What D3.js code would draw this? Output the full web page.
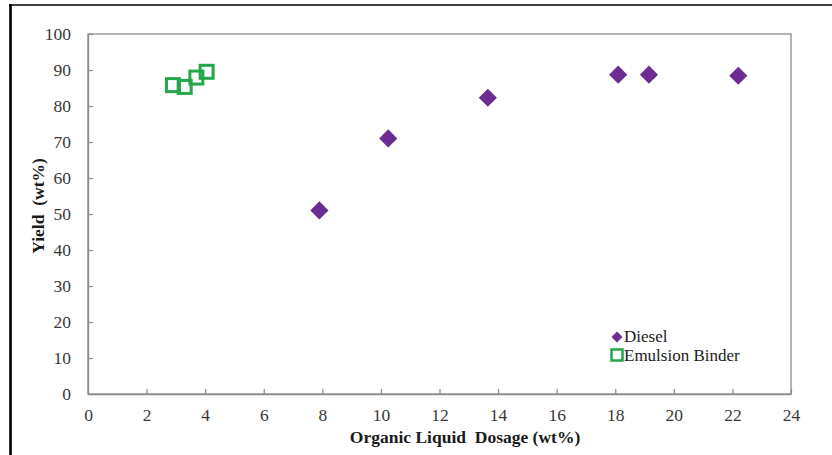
<!DOCTYPE html>
<html lang="en">
<head>
    <meta charset="utf-8" />
    <title>Yield vs Organic Liquid Dosage</title>
    <script src="https://cdn.jsdelivr.net/npm/d3@7"></script>
    <style type="text/css">
        body { margin: 0; background: #fff; }
        text { font-family: "Liberation Serif", "DejaVu Serif", serif; }
    </style>
</head>
<body>
    <svg id="canvas" width="832" height="455" xmlns="http://www.w3.org/2000/svg"></svg>
    <script type="text/javascript">
        // данные
        var dieselX = [7.9, 10.25, 13.65, 18.1, 19.15, 22.2];
        var dieselY = [51, 71, 82.3, 88.7, 88.7, 88.4];
        var binderX = [2.9, 3.3, 3.7, 4.05];
        var binderY = [85.8, 85.3, 87.9, 89.5];
        var xTicks = d3.range(0, 25, 2);
        var yTicks = d3.range(0, 101, 10);

        var svg = d3.select("#canvas");
        var plotLeft = 88, plotRight = 791, plotTop = 34, plotBottom = 394;
        var x = d3.scaleLinear().domain([0, 24]).range([plotLeft, plotRight]),
            y = d3.scaleLinear().domain([0, 100]).range([plotBottom, plotTop]);
        var purple = "#6b2d91", green = "#22a84b", axisColor = "#8c8c8c";
        var fontSize = "17.5px";

        // рамка вокруг картинки
        svg.append("line").attr("x1", 9).attr("x2", 832).attr("y1", 5).attr("y2", 5)
            .attr("stroke", "#000").attr("stroke-width", 1.6);
        svg.append("line").attr("x1", 10.5).attr("x2", 10.5).attr("y1", 4).attr("y2", 455)
            .attr("stroke", "#000").attr("stroke-width", 2.6);

        // граница области построения
        svg.append("rect").attr("x", plotLeft).attr("y", plotTop)
            .attr("width", plotRight - plotLeft).attr("height", plotBottom - plotTop)
            .attr("fill", "none").attr("stroke", axisColor).attr("stroke-width", 1.3);

        var xAxis = svg.append("g").attr("transform", "translate(0," + plotBottom + ")")
            .call(d3.axisBottom(x).tickValues(xTicks).tickSizeInner(-5).tickSizeOuter(0).tickPadding(11));
        var yAxis = svg.append("g").attr("transform", "translate(" + plotLeft + ",0)")
            .call(d3.axisLeft(y).tickValues(yTicks).tickSizeInner(-5).tickSizeOuter(0).tickPadding(17));
        [xAxis, yAxis].forEach(function (g) {
            g.select(".domain").attr("stroke", axisColor).attr("stroke-width", 1.3);
            g.selectAll(".tick line").attr("stroke", axisColor).attr("stroke-width", 1.2);
            g.selectAll("text").attr("fill", "#383838").style("font-size", fontSize)
                .style("font-family", "'Liberation Serif', serif");
        });
        xAxis.selectAll("text").attr("dy", "0.9em");

        // подписи осей
        svg.append("text").attr("x", 465).attr("y", 443).attr("text-anchor", "middle")
            .style("font-size", fontSize).style("font-weight", "bold").attr("fill", "#1a1a1a")
            .attr("xml:space", "preserve")
            .text("Organic Liquid  Dosage (wt%)");
        svg.append("text").attr("transform", "translate(44,206) rotate(-90)")
            .attr("text-anchor", "middle")
            .style("font-size", fontSize).style("font-weight", "bold").attr("fill", "#1a1a1a")
            .attr("xml:space", "preserve")
            .text("Yield  (wt%)");

        var diamond = d3.symbol().type(d3.symbolSquare).size(165);

        svg.append("g").selectAll("path")
                .data(d3.zip(dieselX, dieselY))
            .enter().append("path")
                .attr("d", diamond)
                .attr("fill", purple)
                .attr("transform", function (d) {
                    return "translate(" + x(d[0]) + "," + y(d[1]) + ") rotate(45)";
                });

        var s = 13;
        svg.append("g").selectAll("rect")
                .data(d3.zip(binderX, binderY))
            .enter().append("rect")
                .attr("x", function (d) { return x(d[0]) - s / 2; })
                .attr("y", function (d) { return y(d[1]) - s / 2; })
                .attr("width", s).attr("height", s)
                .attr("fill", "none")
                .attr("stroke", green).attr("stroke-width", 3);

        // легенда
        var legend = svg.append("g");
        legend.append("path").attr("d", d3.symbol().type(d3.symbolSquare).size(60))
            .attr("fill", purple).attr("transform", "translate(617,337) rotate(45)");
        legend.append("rect").attr("x", 611.5).attr("y", 349.5).attr("width", 11).attr("height", 11)
            .attr("fill", "none").attr("stroke", green).attr("stroke-width", 2.5);
        legend.append("text").attr("x", 624).attr("y", 341.5).style("font-size", "17px")
            .attr("fill", "#1a1a1a").text("Diesel");
        legend.append("text").attr("x", 624).attr("y", 361).style("font-size", "17px")
            .attr("fill", "#1a1a1a").text("Emulsion Binder");
    </script>
</body>
</html>
